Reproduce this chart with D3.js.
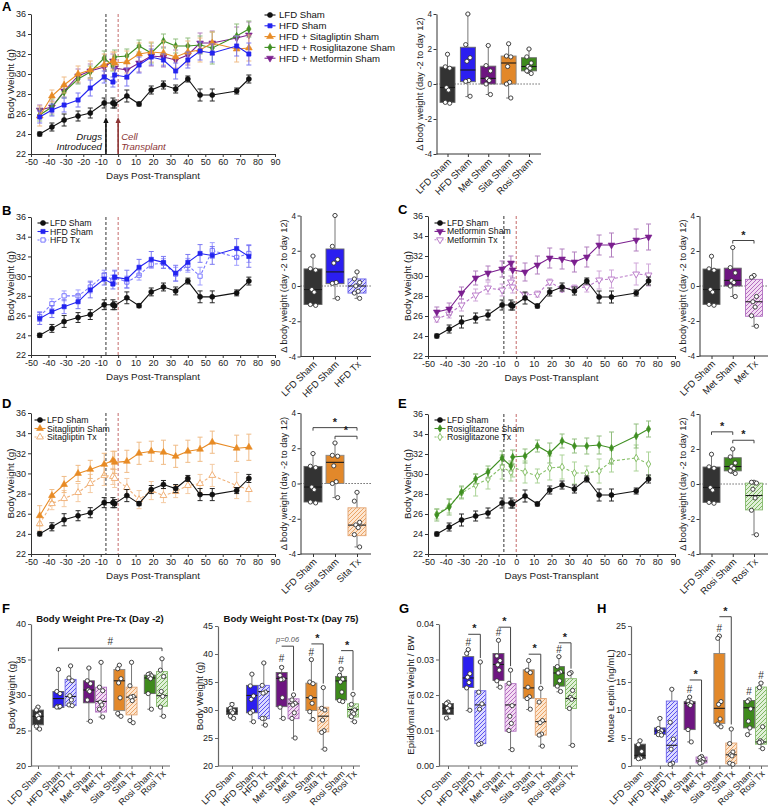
<!DOCTYPE html>
<html><head><meta charset="utf-8">
<script src="https://cdn.jsdelivr.net/npm/d3@7"></script>
<style>body{margin:0;background:#fff}svg{display:block}</style>
</head><body><svg id="c" width="770" height="811"></svg>
<script>
// ---------------- DATA ----------------
const days = [-45,-38,-31,-23,-16,-8,-3,-2,5,12,19,26,33,40,47,54,68,75];
const dayTicks = [-50,-40,-30,-20,-10,0,10,20,30,40,50,60,70,80,90];
const bwTicks = [22,24,26,28,30,32,34,36];
const drugDay = -7, transplantDay = 0;

const lfdSham    = [24.0,24.7,25.4,25.8,26.1,27.1,27.1,27.0,27.8,27.0,28.4,28.9,28.5,29.5,27.9,27.9,28.3,29.5];
const lfdShamErr = [0.2,0.4,0.6,0.5,0.5,0.5,0.5,0.4,0.6,0.2,0.4,0.4,0.4,0.3,0.6,0.6,0.3,0.4];
const hfdSham    = [25.7,26.4,26.9,27.4,28.6,29.7,29.2,29.9,29.7,30.9,31.7,31.4,30.3,31.4,32.3,32.1,32.8,32.0];
const hfdShamErr = [0.6,0.6,0.7,0.7,0.8,0.6,0.5,0.7,0.9,0.8,0.8,0.6,0.8,0.8,0.9,0.9,1.0,1.1];
const hfdTx      = [25.9,27.2,28.0,28.0,28.9,30.1,29.6,29.9,29.4,30.1,31.2,31.3,30.2,31.1,30.0,32.6,31.9,32.3];
const hfdTxErr   = [0.5,0.5,0.5,0.6,0.6,0.5,0.5,0.6,0.6,0.5,0.4,0.5,0.7,0.7,0.9,0.8,0.8,0.9];
const metSham    = [26.4,26.7,28.3,29.8,30.3,30.7,31.3,30.6,30.4,31.1,31.8,31.7,31.4,31.9,33.1,33.1,33.6,33.9];
const metShamErr = [0.5,0.6,0.6,0.7,0.7,0.8,0.7,0.8,0.9,0.9,1.0,1.0,1.0,1.0,1.0,1.2,1.1,1.3];
const metTx      = [25.7,26.2,27.1,28.1,28.8,28.6,29.4,28.9,28.1,28.2,29.4,28.7,28.8,28.9,29.6,29.7,30.2,30.1];
const metTxErr   = [0.3,0.4,0.6,0.6,0.6,0.6,0.6,0.6,0.2,0.3,0.3,0.3,0.3,0.5,0.9,0.9,1.1,1.1];
const sitaSham   = [25.8,27.8,28.9,30.0,30.4,30.9,31.3,31.1,31.2,32.0,32.2,32.1,31.7,32.2,32.4,33.1,32.5,32.6];
const sitaShamErr= [1.0,0.6,0.8,0.8,0.9,1.1,0.9,1.1,1.1,1.1,1.0,1.2,1.1,1.1,1.2,1.1,1.3,1.3];
const sitaTx     = [25.0,27.0,27.5,28.1,29.0,29.8,29.7,29.5,28.6,27.4,28.3,27.8,28.2,28.8,29.0,29.8,28.8,28.4];
const sitaTxErr  = [0.7,0.6,0.8,0.9,0.9,1.0,0.8,0.9,0.9,0.9,0.9,0.7,0.6,0.8,0.9,1.1,1.3,1.2];
const rosiSham   = [25.9,26.7,28.2,29.5,30.2,31.6,30.8,31.7,31.8,32.8,32.1,33.3,32.8,32.8,32.9,32.6,33.8,34.5];
const rosiShamErr= [0.6,0.8,0.6,0.5,0.6,0.7,0.5,0.7,0.7,0.6,1.0,0.7,0.7,0.8,0.9,1.6,1.2,0.8];
const rosiTx     = [26.0,26.8,28.1,28.9,29.5,30.7,30.2,30.7,30.2,29.8,30.6,30.7,30.1,30.1,30.3,31.3,31.6,31.0];
const rosiTxErr  = [0.5,0.7,0.6,1.1,1.0,1.2,0.9,1.0,1.1,0.7,1.2,1.2,1.1,0.7,1.2,1.1,1.3,1.2];

// delta body weight (day -2 to day 12): [min,q1,median,q3,max] and points
const deltaTicks = [-4,-2,0,2,4];
const deltaCats = ["LFD Sham","HFD Sham","Met Sham","Sita Sham","Rosi Sham","HFD Tx","Met Tx","Sita Tx","Rosi Tx"];
const deltaBox = [
  [-1.1,-1.05,-0.2,0.97,1.7],[-0.72,0.13,0.8,2.1,4.0],[-0.6,0.0,0.32,1.02,2.2],
  [-0.8,0.0,1.2,1.6,2.3],[0.6,0.75,1.0,1.5,2.0],[-0.7,-0.4,0.0,0.4,0.8],
  [-2.3,-1.73,-0.9,0.38,0.6],[-3.6,-2.96,-2.36,-1.38,-0.5],[-2.9,-1.48,-0.66,0.05,0.1]];
const deltaPts = [
  [1.7,0.98,0.9,-0.2,-0.35,-1.05,-1.1],[4.0,2.25,1.5,1.3,0.2,0.15,-0.7],[2.2,1.05,0.75,0.3,0.2,0.0,-0.6],
  [2.3,1.6,1.55,1.0,0.1,0.0,-0.8],[2.0,1.55,1.2,1.0,0.9,0.75,0.6],[0.8,0.4,0.2,0.0,-0.3,-0.4,-0.7],
  [0.6,0.5,-0.6,-0.9,-1.2,-1.7,-2.3],[-0.5,-1.0,-2.2,-2.35,-2.5,-2.9,-3.6],[0.1,0.1,0.05,-0.3,-0.8,-1.5,-2.9]];

// F / G / H
const fCats = ["LFD Sham","HFD Sham","HFD Tx","Met Sham","Met Tx","Sita Sham","Sita Tx","Rosi Sham","Rosi Tx"];
const preTicks = [20,25,30,35,40];
const preBox = [[25.14,25.8,27.0,27.88,28.35],[28.25,28.25,29.5,30.5,33.5],[28.5,28.5,29.8,32.2,34.1],
  [26.3,28.9,30.7,32.0,33.8],[26.9,27.6,29.1,31.1,34.6],[27.0,27.8,32.0,33.6,34.2],
  [26.1,27.2,29.7,31.1,34.6],[28.0,30.2,32.4,32.8,33.0],[27.0,28.4,29.9,33.3,35.1]];
const prePts = [[28.3,27.9,27.3,27.1,26.7,25.6,25.2],[33.6,30.5,30.2,28.4,28.3,28.3,28.4],[34.1,32.4,32.0,29.9,29.3,28.6,28.5],
  [33.8,32.0,31.6,30.7,30.5,29.3,26.3],[34.6,31.1,30.6,29.0,28.6,28.0,26.9],[34.2,33.7,32.3,31.7,29.6,27.4,27.0],
  [34.6,31.3,29.8,29.7,29.2,26.4,26.1],[33.0,32.9,32.7,32.5,32.3,30.2,28.0],[35.1,33.5,32.6,30.5,29.8,28.3,27.0]];
const postTicks = [20,25,30,35,40,45];
const postBox = [[28.45,29.2,29.8,30.4,31.25],[27.9,29.5,32.6,34.4,36.4],[27.3,28.45,33.3,34.4,38.4],
  [28.45,30.6,35.65,36.7,37.8],[25.0,28.45,31.1,32.0,32.7],[28.2,29.9,32.2,34.8,39.0],
  [23.0,26.1,28.9,30.5,34.0],[31.4,31.8,35.2,36.0,37.5],[27.9,28.75,30.1,31.1,32.8]];
const postPts = [[31.0,30.3,29.9,29.8,29.5,28.9,28.5],[36.4,34.3,32.5,31.9,29.8,29.5,27.9],[38.4,34.4,33.2,33.0,28.5,28.5,27.3],
  [37.6,36.2,35.5,35.4,32.2,30.5,28.5],[32.7,31.8,31.2,30.9,29.5,28.5,25.0],[39.0,35.0,34.7,32.2,31.2,29.7,28.3],
  [34.0,30.3,30.0,28.2,26.3,26.0,23.0],[37.3,36.2,35.5,35.0,33.2,31.7,31.5],[32.8,31.0,30.0,29.6,29.3,28.8,27.9]];
const fatTicks = [0,0.01,0.02,0.03,0.04];
const fatBox = [[0.0133,0.0145,0.0163,0.0176,0.0181],[0.0156,0.0221,0.0248,0.0308,0.0326],[0.0061,0.0063,0.0172,0.0212,0.0293],
  [0.0222,0.0241,0.0286,0.0317,0.0354],[0.0046,0.0098,0.0172,0.0232,0.0270],[0.0159,0.0191,0.0220,0.0271,0.0297],
  [0.0056,0.0087,0.0125,0.0190,0.0219],[0.0209,0.0225,0.0262,0.0280,0.0308],[0.0058,0.0162,0.0190,0.0246,0.0263]];
const fatPts = [[0.0180,0.0176,0.0170,0.0162,0.0155,0.0135],[0.0328,0.0317,0.0260,0.0250,0.0235,0.0220,0.0157],
  [0.0293,0.0208,0.0175,0.0160,0.0063,0.0061],[0.0354,0.0310,0.0297,0.0285,0.0270,0.0240,0.0222],
  [0.0270,0.0233,0.0170,0.0140,0.0120,0.0100,0.0046],[0.0297,0.0270,0.0263,0.0222,0.0195,0.0190,0.0160],
  [0.0219,0.0180,0.0128,0.0122,0.0090,0.0087,0.0056],[0.0308,0.0280,0.0265,0.0262,0.0240,0.0225,0.0210],
  [0.0263,0.0260,0.0213,0.0193,0.0188,0.0162,0.0058]];
const leptinTicks = [0,5,10,15,20,25];
const leptinBox = [[1.3,1.3,1.9,3.9,4.6],[5.4,5.65,6.25,6.8,8.6],[0.3,0.7,3.7,11.6,13.7],
  [4.3,6.5,11.2,11.5,12.4],[0.4,0.55,0.9,1.6,1.8],[7.0,7.6,10.3,20.1,23.2],
  [0.3,0.4,2.0,4.1,6.7],[5.65,6.8,10.4,11.7,12.0],[3.1,3.9,4.3,14.1,14.9]];
const leptinPts = [[4.5,3.8,2.6,1.5,1.4,1.3],[8.5,6.7,6.3,6.0,5.8,5.6,5.5],[13.7,7.8,4.8,3.0,0.5,0.3],
  [12.3,11.6,11.3,11.0,10.8,6.5,4.3],[1.7,1.5,1.2,0.9,0.7,0.5],[23.2,22.8,11.5,11.0,8.4,7.5,7.0],
  [6.6,4.0,2.5,2.0,1.8,0.5,0.3],[11.8,11.5,10.2,8.0,6.8,5.6],[14.8,14.0,7.0,4.5,4.3,4.2,3.1]];

// ---------------- STYLE ----------------
const FONT = "Arial, 'Liberation Sans', Helvetica, sans-serif";
const svg = d3.select("#c").attr("font-family", FONT);
const defs = svg.append("defs");
function hatch(id, bg, fg){
  const p = defs.append("pattern").attr("id",id).attr("patternUnits","userSpaceOnUse").attr("width",4).attr("height",4);
  p.append("rect").attr("width",4).attr("height",4).attr("fill",bg);
  p.append("path").attr("d","M-1,1 l2,-2 M0,4 l4,-4 M3,5 l2,-2").attr("stroke",fg).attr("stroke-width",1);
}
hatch("hHFD","#dcdaff","#5a52ee");
hatch("hMet","#f3dcf3","#b56cc0");
hatch("hSita","#fde6d0","#eaa466");
hatch("hRosi","#e0f0d8","#7fb862");

const seriesData = {
  "LFD Sham":[lfdSham,lfdShamErr],"HFD Sham":[hfdSham,hfdShamErr],"HFD Tx":[hfdTx,hfdTxErr],
  "Met Sham":[metSham,metShamErr],"Met Tx":[metTx,metTxErr],"Sita Sham":[sitaSham,sitaShamErr],
  "Sita Tx":[sitaTx,sitaTxErr],"Rosi Sham":[rosiSham,rosiShamErr],"Rosi Tx":[rosiTx,rosiTxErr]};
const tri = d3.symbolTriangle;
const sStyle = {
  "LFD Sham":{c:"#111",ec:"#111",sym:d3.symbolCircle,sz:20},
  "HFD Sham":{c:"#2424f0",ec:"#6f6cf2",sym:d3.symbolSquare,sz:18},
  "HFD Tx":{c:"#7a78ff",ec:"#9795ff",sym:d3.symbolSquare,sz:18,open:true,dash:"3,2"},
  "Met Sham":{c:"#7b1f8f",ec:"#a970b8",sym:tri,sz:20,down:true},
  "Met Tx":{c:"#bb7dca",ec:"#cc9ed6",sym:tri,sz:20,down:true,open:true,dash:"3,2"},
  "Sita Sham":{c:"#e88b25",ec:"#efb57a",sym:tri,sz:20},
  "Sita Tx":{c:"#f1b37c",ec:"#f4c69a",sym:tri,sz:20,open:true,dash:"3,2"},
  "Rosi Sham":{c:"#3f8f22",ec:"#86b870",sym:d3.symbolDiamond,sz:16},
  "Rosi Tx":{c:"#88c06a",ec:"#a3cf8d",sym:d3.symbolDiamond,sz:16,open:true,dash:"3,2"}};
const boxStyle = {
  "LFD Sham":{fill:"#333",stroke:"#666"},"HFD Sham":{fill:"#2b1ef0",stroke:"#666"},
  "HFD Tx":{fill:"url(#hHFD)",stroke:"#6b63e8"},"Met Sham":{fill:"#6d1580",stroke:"#666"},
  "Met Tx":{fill:"url(#hMet)",stroke:"#b070c0"},"Sita Sham":{fill:"#e2882a",stroke:"#888"},
  "Sita Tx":{fill:"url(#hSita)",stroke:"#e2a472"},"Rosi Sham":{fill:"#3e8a1c",stroke:"#666"},
  "Rosi Tx":{fill:"url(#hRosi)",stroke:"#86ba6e"}};

function styleAxis(g, fs, col){
  g.select(".domain").attr("stroke",col||"#333");
  g.selectAll(".tick line").attr("stroke",col||"#333");
  g.selectAll("text").attr("font-size",fs).attr("fill","#222").attr("font-family",FONT);
}
function marker(g, x, y, st){
  g.append("path").attr("d",d3.symbol().type(st.sym).size(st.sz)())
    .attr("transform",`translate(${x},${y})${st.down?" rotate(180)":""}`)
    .attr("fill",st.open?"#fff":st.c).attr("stroke",st.c).attr("stroke-width",st.open?1:0.6);
}
function letter(t,x,y){ svg.append("text").attr("x",x).attr("y",y).attr("font-size",13).attr("font-weight","bold").text(t); }

// ---------------- LINE PANELS ----------------
function linePanel(o){
  const g = svg.append("g");
  const xs = d3.scaleLinear().domain([dayTicks[0],dayTicks[dayTicks.length-1]]).range([o.x0,o.x1]);
  const ys = d3.scaleLinear().domain([bwTicks[0],bwTicks[bwTicks.length-1]]).range([o.yb,o.yt]);
  const ax = g.append("g").attr("transform",`translate(0,${o.yb})`)
    .call(d3.axisBottom(xs).tickValues(dayTicks).tickFormat(d=>String(d)).tickSize(3).tickSizeOuter(0).tickPadding(2));
  const ay = g.append("g").attr("transform",`translate(${o.x0},0)`)
    .call(d3.axisLeft(ys).tickValues(bwTicks).tickFormat(d=>String(d)).tickSize(3).tickSizeOuter(0).tickPadding(2));
  styleAxis(ax,9); styleAxis(ay,9);
  g.append("text").attr("x",(o.x0+o.x1)/2).attr("y",o.yb+24.5).attr("text-anchor","middle").attr("font-size",9.8).attr("fill","#222").text("Days Post-Transplant");
  g.append("text").attr("transform",`translate(${o.x0-17},${(o.yt+o.yb)/2}) rotate(-90)`).attr("text-anchor","middle").attr("font-size",9.8).attr("fill","#222").text("Body Weight (g)");
  g.append("line").attr("x1",xs(drugDay)).attr("x2",xs(drugDay)).attr("y1",o.yt).attr("y2",o.yb).attr("stroke","#333").attr("stroke-dasharray","3,2");
  g.append("line").attr("x1",xs(transplantDay)).attr("x2",xs(transplantDay)).attr("y1",o.yt).attr("y2",o.yb).attr("stroke","#c46a6a").attr("stroke-dasharray","3,2");
  if(o.arrows){
    const ay0 = o.yb, ay1 = o.yb-37;
    [[drugDay,"#111"],[transplantDay,"#8c3535"]].forEach(([d,c])=>{
      const x = xs(d);
      g.append("line").attr("x1",x).attr("x2",x).attr("y1",ay0).attr("y2",ay1+5).attr("stroke",c).attr("stroke-width",1.6);
      g.append("path").attr("d",`M${x-2.6},${ay1+6} L${x},${ay1} L${x+2.6},${ay1+6} Z`).attr("fill",c);
    });
    g.append("text").attr("x",xs(drugDay)-4).attr("y",o.yb-14).attr("text-anchor","end").attr("font-style","italic").attr("font-size",9.6).attr("fill","#111").text("Drugs");
    g.append("text").attr("x",xs(drugDay)-4).attr("y",o.yb-4).attr("text-anchor","end").attr("font-style","italic").attr("font-size",9.6).attr("fill","#111").text("Introduced");
    g.append("text").attr("x",xs(transplantDay)+3).attr("y",o.yb-14).attr("font-style","italic").attr("font-size",9.6).attr("fill","#8c3535").text("Cell");
    g.append("text").attr("x",xs(transplantDay)+3).attr("y",o.yb-4).attr("font-style","italic").attr("font-size",9.6).attr("fill","#8c3535").text("Transplant");
  }
  o.names.slice().reverse().forEach(name=>{
    const [v,e] = seriesData[name]; const st = sStyle[name];
    const eg = g.append("g").attr("stroke",st.ec).attr("stroke-width",1).attr("opacity",0.9);
    days.forEach((d,i)=>{
      const x = xs(d), y1 = ys(v[i]-e[i]), y2 = ys(v[i]+e[i]);
      eg.append("line").attr("x1",x).attr("x2",x).attr("y1",y1).attr("y2",y2);
      eg.append("line").attr("x1",x-2.5).attr("x2",x+2.5).attr("y1",y1).attr("y2",y1);
      eg.append("line").attr("x1",x-2.5).attr("x2",x+2.5).attr("y1",y2).attr("y2",y2);
    });
    g.append("path").datum(v).attr("fill","none").attr("stroke",st.c).attr("stroke-width",1.1)
      .attr("stroke-dasharray",st.dash||null)
      .attr("d",d3.line().x((d,i)=>xs(days[i])).y(d=>ys(d)));
    days.forEach((d,i)=>marker(g,xs(d),ys(v[i]),st));
  });
  const lg = svg.append("g");
  o.names.forEach((name,i)=>{
    const st = sStyle[name], y = o.ly + i*o.ldy;
    lg.append("line").attr("x1",o.lx-5.5).attr("x2",o.lx+5.5).attr("y1",y).attr("y2",y).attr("stroke",st.c).attr("stroke-width",1.1).attr("stroke-dasharray",st.dash?"2,1.5":null);
    marker(lg,o.lx,y,st);
    lg.append("text").attr("x",o.lx+o.ltx).attr("y",y).attr("dy","0.35em").attr("font-size",o.lfs).attr("fill","#111").text(o.labels[i]);
  });
}

// ---------------- BOX HELPERS ----------------
const jit = [0,-2.2,2.2,-1,1,-2.2,2.2];
function drawBox(g, x, w, ys, stats, pts, cat){
  const st = boxStyle[cat];
  const [mn,q1,md,q3,mx] = stats;
  g.append("line").attr("x1",x).attr("x2",x).attr("y1",ys(mn)).attr("y2",ys(mx)).attr("stroke","#777").attr("stroke-width",1);
  [mn,mx].forEach(v=>g.append("line").attr("x1",x-2.5).attr("x2",x+2.5).attr("y1",ys(v)).attr("y2",ys(v)).attr("stroke","#777"));
  g.append("rect").attr("x",x-w/2).attr("y",ys(q3)).attr("width",w).attr("height",Math.max(0.5,ys(q1)-ys(q3)))
    .attr("fill",st.fill).attr("stroke",st.stroke).attr("stroke-width",0.9);
  g.append("line").attr("x1",x-w/2).attr("x2",x+w/2).attr("y1",ys(md)).attr("y2",ys(md)).attr("stroke","#1a1a1a").attr("stroke-width",1.1);
  pts.forEach((v,i)=>g.append("circle").attr("cx",x+jit[i%jit.length]*w/15).attr("cy",ys(v)).attr("r",2.1)
    .attr("fill","#fff").attr("stroke","#333").attr("stroke-width",0.9));
}
function catLabels(g, xs, cats, yb, fs){
  cats.forEach(c=>{
    g.append("text").attr("transform",`translate(${xs(c)+2},${yb+6}) rotate(-45)`)
      .attr("text-anchor","end").attr("dy","0.35em").attr("font-size",fs).attr("fill","#222").text(c);
  });
}

// ---------------- DELTA PANELS ----------------
function deltaPanel(o){
  const g = svg.append("g");
  const ys = d3.scaleLinear().domain([deltaTicks[0],deltaTicks[deltaTicks.length-1]]).range([o.yb,o.yt]);
  const xs = d3.scalePoint().domain(o.cats).range([o.c0,o.c1]);
  const ay = g.append("g").attr("transform",`translate(${o.ax},0)`)
    .call(d3.axisLeft(ys).tickValues(deltaTicks).tickFormat(d=>String(d)).tickSize(3).tickSizeOuter(0).tickPadding(1.5));
  styleAxis(ay,8.2);
  const axb = g.append("g").attr("transform",`translate(0,${o.yb})`)
    .call(d3.axisBottom(xs).tickSize(3).tickSizeOuter(0).tickFormat(""));
  axb.select(".domain").remove(); axb.selectAll(".tick line").attr("stroke","#333");
  g.append("line").attr("x1",o.ax).attr("x2",o.xe).attr("y1",o.yb).attr("y2",o.yb).attr("stroke","#333");
  g.append("line").attr("x1",o.ax).attr("x2",o.xe).attr("y1",ys(0)).attr("y2",ys(0)).attr("stroke","#444").attr("stroke-dasharray","1.2,1.8");
  g.append("text").attr("transform",`translate(${o.ax-13.5},${(o.yt+o.yb)/2}) rotate(-90)`).attr("text-anchor","middle").attr("font-size",9.3).attr("fill","#222").text("\u0394 body weight (day -2 to day 12)");
  o.cats.forEach(c=>{ const i = deltaCats.indexOf(c); drawBox(g, xs(c), o.bw, ys, deltaBox[i], deltaPts[i], c); });
  catLabels(g, xs, o.cats, o.yb, 9.5);
  (o.br||[]).forEach(([a,b,v])=>{
    const y = ys(v), x1 = xs(a), x2 = xs(b);
    g.append("path").attr("d",`M${x1},${y+3} V${y} H${x2} V${y+3}`).attr("fill","none").attr("stroke","#444");
    g.append("text").attr("x",(x1+x2)/2).attr("y",y-2).attr("text-anchor","middle").attr("font-size",11).attr("font-weight","bold").attr("fill","#222").text("*");
  });
}

// ---------------- GROUP PANELS (F,G,H) ----------------
const slotOf = [0.33,1,1.4,2,2.4,3,3.4,4,4.4];
function groupPanel(o){
  const g = svg.append("g");
  const ys = d3.scaleLinear().domain([o.ticks[0],o.ticks[o.ticks.length-1]]).range([o.yb,o.yt]);
  const sl = d3.scaleLinear().domain([slotOf[0],slotOf[slotOf.length-1]]).range([o.c0,o.c1]);
  const xs = d3.scaleOrdinal().domain(fCats).range(fCats.map((c,i)=>sl(slotOf[i])));
  const ay = g.append("g").attr("transform",`translate(${o.ax},0)`)
    .call(d3.axisLeft(ys).tickValues(o.ticks).tickFormat(o.fmt).tickSize(3).tickSizeOuter(0).tickPadding(2));
  styleAxis(ay,9,"#666");
  ay.select(".domain").attr("stroke-width",1.2);
  const axb = g.append("g").attr("transform",`translate(0,${o.yb})`)
    .call(d3.axisBottom(xs).tickSize(3).tickSizeOuter(0).tickFormat(""));
  axb.select(".domain").remove(); axb.selectAll(".tick line").attr("stroke","#666");
  g.append("line").attr("x1",o.ax).attr("x2",o.xe).attr("y1",o.yb).attr("y2",o.yb).attr("stroke","#666").attr("stroke-width",1.2);
  g.append("text").attr("transform",`translate(${o.yx},${(o.yt+o.yb)/2}) rotate(-90)`).attr("text-anchor","middle").attr("font-size",9.6).attr("fill","#222").text(o.ytitle);
  if(o.title) g.append("text").attr("x",o.tx).attr("y",621.5).attr("text-anchor","middle").attr("font-size",9.5).attr("font-weight","bold").attr("fill","#111").text(o.title);
  fCats.forEach((c,i)=>drawBox(g, xs(c), 11, ys, o.box[i], o.pts[i], c));
  catLabels(g, xs, fCats, o.yb, 9.2);
  (o.hash||[]).forEach(c=>{
    const i = fCats.indexOf(c);
    g.append("text").attr("x",xs(c)).attr("y",ys(o.box[i][4])-4).attr("text-anchor","middle").attr("font-size",10).attr("fill","#333").text("#");
  });
  (o.br||[]).forEach(([a,b,v,lab])=>{
    const y = ys(v), x1 = xs(a), x2 = xs(b), i = fCats.indexOf(b);
    g.append("path").attr("d",`M${x1},${y} H${x2} V${ys(o.box[i][4])-4}`).attr("fill","none").attr("stroke","#444");
    if(lab==="*") g.append("text").attr("x",(x1+x2)/2).attr("y",y-2).attr("text-anchor","middle").attr("font-size",11).attr("font-weight","bold").attr("fill","#222").text("*");
    else g.append("text").attr("x",(x1+x2)/2).attr("y",y-4).attr("text-anchor","middle").attr("font-size",7.5).attr("font-style","italic").attr("fill","#555").text(lab);
  });
  if(o.top){
    const [a,b,v] = o.top, y = ys(v), x1 = xs(a), x2 = xs(b);
    g.append("path").attr("d",`M${x1},${y+3} V${y} H${x2} V${y+3}`).attr("fill","none").attr("stroke","#444");
    g.append("text").attr("x",(x1+x2)/2).attr("y",y-3).attr("text-anchor","middle").attr("font-size",10).attr("fill","#333").text("#");
  }
}

// ---------------- BUILD ----------------
letter("A",2,11);
linePanel({x0:31,x1:275,yt:14,yb:154,arrows:true,
  names:["LFD Sham","HFD Sham","Sita Sham","Rosi Sham","Met Sham"],
  labels:["LFD Sham","HFD Sham","HFD + Sitagliptin Sham","HFD + Rosiglitazone Sham","HFD + Metformin Sham"],
  lx:270,ly:15,ldy:10.8,ltx:9,lfs:9.6});
deltaPanel({ax:436.5,xe:541,yt:14,yb:154,c0:447.5,c1:529,bw:15,cats:["LFD Sham","HFD Sham","Met Sham","Sita Sham","Rosi Sham"]});

letter("B",2,215);
linePanel({x0:31,x1:275,yt:217,yb:355,names:["LFD Sham","HFD Sham","HFD Tx"],
  labels:["LFD Sham","HFD Sham","HFD Tx"],lx:43,ly:223,ldy:8.5,ltx:7,lfs:8.7});
deltaPanel({ax:300.5,xe:371,yt:215.5,yb:356.5,c0:313,c1:357,bw:18,cats:["LFD Sham","HFD Sham","HFD Tx"]});

letter("C",398,214);
linePanel({x0:428,x1:675,yt:216,yb:356,names:["LFD Sham","Met Sham","Met Tx"],
  labels:["LFD Sham","Metformin Sham","Metformin Tx"],lx:440,ly:223,ldy:8.4,ltx:7,lfs:8.7});
deltaPanel({ax:699.5,xe:768,yt:216,yb:356,c0:711.5,c1:754,bw:17,cats:["LFD Sham","Met Sham","Met Tx"],
  br:[["Met Sham","Met Tx",2.6]]});

letter("D",2,408);
linePanel({x0:31,x1:275,yt:413,yb:554,names:["LFD Sham","Sita Sham","Sita Tx"],
  labels:["LFD Sham","Sitagliptin Sham","Sitagliptin Tx"],lx:40,ly:420,ldy:8.5,ltx:7,lfs:8.7});
deltaPanel({ax:300.5,xe:371,yt:413,yb:554,c0:313,c1:357,bw:18,cats:["LFD Sham","Sita Sham","Sita Tx"],
  br:[["LFD Sham","Sita Tx",3.17],["Sita Sham","Sita Tx",2.68]]});

letter("E",398,408);
linePanel({x0:428,x1:675,yt:414,yb:554,names:["LFD Sham","Rosi Sham","Rosi Tx"],
  labels:["LFD Sham","Rosiglitazone Sham","Rosiglitazone Tx"],lx:440,ly:420,ldy:8.5,ltx:7,lfs:8.7});
deltaPanel({ax:699.5,xe:768,yt:414,yb:554,c0:711.5,c1:754,bw:17,cats:["LFD Sham","Rosi Sham","Rosi Tx"],
  br:[["LFD Sham","Rosi Sham",2.98],["Rosi Sham","Rosi Tx",2.5]]});

letter("F",2,613);
groupPanel({ax:31,xe:170,yt:624,yb:766,c0:38,c1:162,ticks:preTicks,fmt:d=>String(d),box:preBox,pts:prePts,
  yx:15,ytitle:"Body Weight (g)",title:"Body Weight Pre-Tx (Day -2)",tx:100,top:["HFD Sham","Rosi Tx",36.6]});
groupPanel({ax:218,xe:360,yt:626,yb:766,c0:232,c1:353,ticks:postTicks,fmt:d=>String(d),box:postBox,pts:postPts,
  yx:202.5,ytitle:"Body Weight (g)",title:"Body Weight Post-Tx (Day 75)",tx:291,
  hash:["Met Sham","Sita Sham","Rosi Sham"],
  br:[["Met Sham","Met Tx",41.4,"p=0.06"],["Sita Sham","Sita Tx",41.8,"*"],["Rosi Sham","Rosi Tx",40.6,"*"]]});

letter("G",399,613);
groupPanel({ax:439,xe:578,yt:624,yb:766,c0:448,c1:571,ticks:fatTicks,fmt:d3.format(".2f"),box:fatBox,pts:fatPts,
  yx:413.5,ytitle:"Epididymal Fat Weight / BW",hash:["HFD Sham","Met Sham","Rosi Sham"],
  br:[["HFD Sham","HFD Tx",0.0371,"*"],["Met Sham","Met Tx",0.0391,"*"],["Sita Sham","Sita Tx",0.0315,"*"],["Rosi Sham","Rosi Tx",0.0347,"*"]]});

letter("H",597,613);
groupPanel({ax:631,xe:768,yt:626,yb:766,c0:640,c1:761,ticks:leptinTicks,fmt:d=>String(d),box:leptinBox,pts:leptinPts,
  yx:613.5,ytitle:"Mouse Leptin (ng/mL)",hash:["Met Sham","Sita Sham","Rosi Sham","Rosi Tx"],
  br:[["Met Sham","Met Tx",15.36,"*"],["Sita Sham","Sita Tx",26.66,"*"]]});
</script></body></html>
